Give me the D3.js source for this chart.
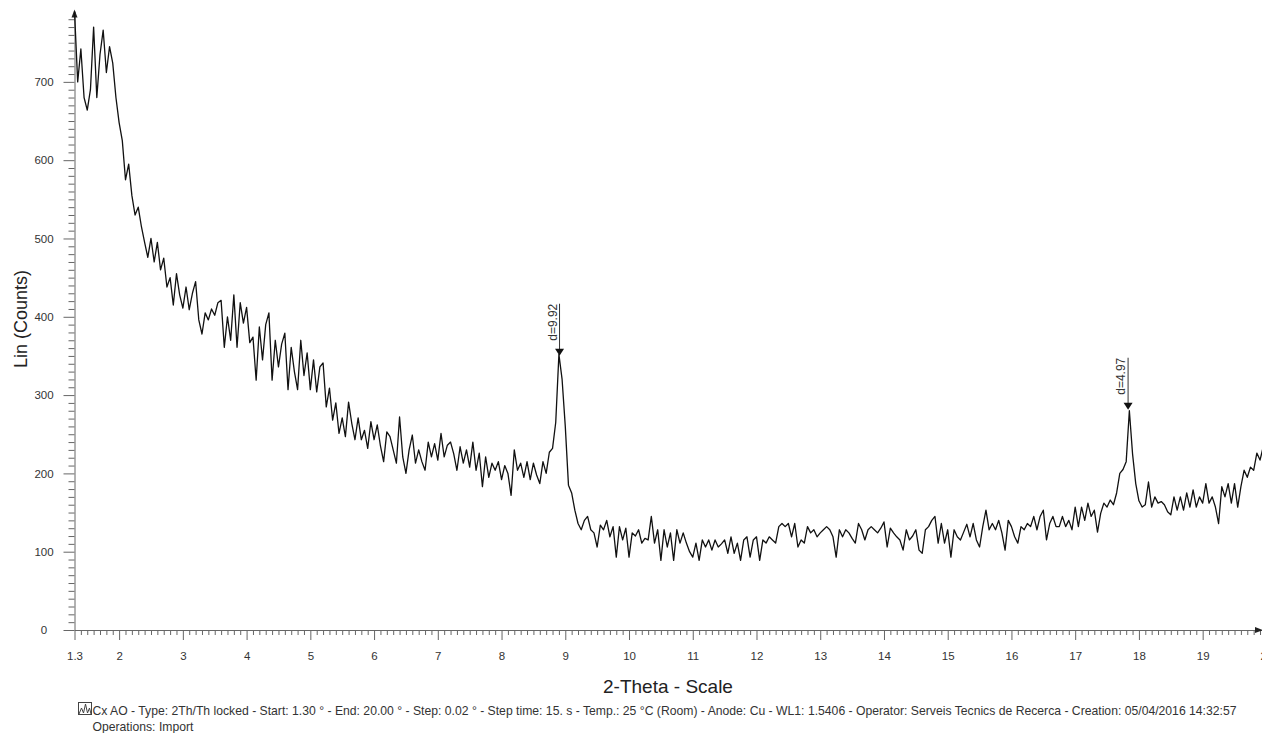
<!DOCTYPE html>
<html lang="en">
<head>
    <meta charset="UTF-8">
    <script src="https://cdn.jsdelivr.net/npm/d3@7"></script>
    <title>Cx AO - XRD</title>
    <style>
        body { margin: 0; background: #fff; }
        svg text { font-family: "Liberation Sans", Arial, sans-serif; }
    </style>
</head>
<body>
    <div id="chart"></div>

    <script>
        /*------------------------------------------------------*/
        /*------------------------ Data ------------------------*/
        /*------------------------------------------------------*/
        // scan starts at 1.30 deg, one value every 0.05 deg
        const startAngle = 1.3;
        const stepAngle = 0.05;

        // 1.30 - 2.95
        const counts_1 = [790, 700, 742, 680, 664, 690, 770, 680, 735, 766, 712, 745, 724, 680,
            648, 625, 575, 595, 555, 530, 540, 515, 495, 476, 500, 470, 495, 460, 475, 438, 450, 415, 455, 428];
        // 3.00 - 5.95
        const counts_2 = [411, 438, 409, 430, 445, 396, 378, 405, 396, 410, 402, 418, 421, 361, 400, 370, 428, 361, 418, 392,
            412, 367, 374, 319, 387, 345, 390, 405, 319, 370, 336, 365, 379, 307, 361, 330, 307, 370, 325, 354,
            307, 345, 304, 336, 341, 285, 309, 268, 290, 251, 271, 247, 291, 264, 243, 271, 243, 255, 232, 266];
        // 6.00 - 8.95
        const counts_3 = [243, 262, 235, 215, 253, 247, 230, 213, 272, 221, 200, 230, 249, 213, 230, 215, 204, 240, 221, 238,
            217, 251, 221, 236, 240, 225, 204, 234, 213, 230, 208, 240, 204, 226, 183, 221, 195, 213, 204, 215,
            192, 210, 200, 172, 230, 204, 213, 195, 215, 192, 213, 198, 187, 215, 200, 227, 232, 265, 352, 320];
        // 9.00 - 12.95
        const counts_4 = [260, 185, 175, 153, 136, 128, 140, 145, 128, 124, 106, 134, 128, 140, 119, 132, 93, 132, 115, 130,
            93, 124, 120, 128, 111, 117, 115, 145, 111, 128, 89, 128, 106, 124, 89, 128, 111, 124, 111, 100,
            93, 111, 89, 115, 106, 115, 102, 115, 106, 110, 115, 98, 119, 98, 111, 89, 115, 119, 93, 115,
            119, 89, 115, 111, 119, 115, 111, 132, 136, 132, 136, 119, 136, 106, 115, 111, 132, 124, 128, 119];
        // 13.00 - 16.95
        const counts_5 = [124, 128, 132, 128, 119, 93, 128, 119, 128, 124, 117, 111, 136, 128, 115, 128, 132, 128, 124, 130,
            138, 106, 130, 124, 119, 115, 102, 128, 115, 120, 128, 102, 98, 128, 132, 140, 145, 111, 136, 111,
            128, 93, 128, 119, 115, 125, 135, 119, 136, 115, 106, 132, 153, 128, 136, 128, 140, 124, 102, 140,
            132, 119, 111, 132, 128, 136, 132, 145, 128, 145, 153, 115, 136, 145, 132, 132, 145, 132, 140, 128];
        // 17.00 - 20.00
        const counts_6 = [157, 132, 157, 140, 162, 145, 153, 125, 149, 162, 157, 166, 160, 175, 200, 205, 215, 280, 225, 187,
            165, 157, 160, 189, 157, 170, 162, 164, 160, 151, 147, 170, 153, 170, 153, 175, 157, 179, 157, 170,
            162, 187, 162, 170, 157, 136, 183, 170, 187, 162, 187, 157, 183, 204, 195, 208, 204, 226, 217, 234, 247];

        // peak markers
        const peakAngles = [8.91, 17.83];
        const peakCounts = [349, 280];
        const peakLabels = ["d=9.92", "d=4.97"];

        // axis ticks
        const xTickValues = [1.3, 2, 3, 4, 5, 6, 7, 8, 9, 10, 11, 12, 13, 14, 15, 16, 17, 18, 19, 20];
        const yTickValues = [0, 100, 200, 300, 400, 500, 600, 700];

        const scanInfo = "Cx AO - Type: 2Th/Th locked - Start: 1.30 \u00b0 - End: 20.00 \u00b0 - Step: 0.02 \u00b0 - Step time: 15. s - Temp.: 25 \u00b0C (Room) - Anode: Cu - WL1: 1.5406 - Operator: Serveis Tecnics de Recerca - Creation: 05/04/2016 14:32:57";
        const operationsInfo = "Operations: Import";

        const scan = [].concat(counts_1, counts_2, counts_3, counts_4, counts_5, counts_6)
            .map((c, i) => ({ angle: startAngle + i * stepAngle, count: c }));

        /*------------------------------------------------------*/
        /*----------------------- Setup ------------------------*/
        /*------------------------------------------------------*/
        const width = 1262;
        const height = 733;

        const svg = d3.select("#chart").append("svg")
            .attr("width", width)
            .attr("height", height);

        const xScale = d3.scaleLinear().domain([1.3, 20]).range([74.5, 1266.4]);
        const yScale = d3.scaleLinear().domain([0, 790]).range([630, 11.4]);

        const axisColor = "#666";
        const labelColor = "#333";

        /*------------------------------------------------------*/
        /*----------------------- Axes -------------------------*/
        /*------------------------------------------------------*/
        // minor x ticks, every 0.1
        const xMinor = d3.range(14, 200).filter(v => v % 10 !== 0).map(v => v / 10);
        svg.append("g")
            .attr("transform", `translate(0,${yScale(0)})`)
            .call(d3.axisBottom(xScale).tickValues(xMinor).tickSize(5).tickSizeOuter(0).tickFormat(""))
            .call(g => g.select(".domain").remove())
            .call(g => g.selectAll("line").attr("stroke", axisColor));

        svg.append("g")
            .attr("transform", `translate(0,${yScale(0)})`)
            .call(d3.axisBottom(xScale).tickValues(xTickValues).tickSize(10).tickSizeOuter(0).tickPadding(12)
                .tickFormat(d => d))
            .call(g => g.select(".domain").attr("stroke", axisColor))
            .call(g => g.selectAll("line").attr("stroke", axisColor))
            .call(g => g.selectAll("text").attr("fill", labelColor).style("font-size", "11.5px"));

        // minor y ticks, every 10
        const yMinor = d3.range(10, 790, 10).filter(v => v % 100 !== 0);
        svg.append("g")
            .attr("transform", `translate(${xScale(1.3)},0)`)
            .call(d3.axisLeft(yScale).tickValues(yMinor).tickSize(6).tickSizeOuter(0).tickFormat(""))
            .call(g => g.select(".domain").remove())
            .call(g => g.selectAll("line").attr("stroke", axisColor));

        svg.append("g")
            .attr("transform", `translate(${xScale(1.3)},0)`)
            .call(d3.axisLeft(yScale).tickValues(yTickValues).tickSize(11).tickSizeOuter(0))
            .call(g => g.select(".domain").attr("stroke", axisColor))
            .call(g => g.selectAll("line").attr("stroke", axisColor))
            .call(g => g.selectAll("text")
                .attr("x", 44 - xScale(1.3))
                .attr("text-anchor", "middle")
                .attr("fill", labelColor)
                .style("font-size", "11.5px"));

        // little arrow heads at the axis ends
        const yTop = yScale(790);
        svg.append("path")
            .attr("d", `M${xScale(1.3) - 3},${yTop + 6}L${xScale(1.3)},${yTop - 2}L${xScale(1.3) + 3},${yTop + 6}Z`)
            .attr("fill", "#222");
        svg.append("path")
            .attr("d", `M1255,${yScale(0) - 3}L1263,${yScale(0)}L1255,${yScale(0) + 3}Z`)
            .attr("fill", "#222");

        // axis titles
        svg.append("text")
            .attr("x", 668)
            .attr("y", 693)
            .attr("text-anchor", "middle")
            .attr("fill", "#222")
            .style("font-size", "19px")
            .text("2-Theta - Scale");

        svg.append("text")
            .attr("transform", "translate(27,319) rotate(-90)")
            .attr("text-anchor", "middle")
            .attr("fill", "#222")
            .style("font-size", "18px")
            .text("Lin (Counts)");

        /*------------------------------------------------------*/
        /*---------------------- Pattern -----------------------*/
        /*------------------------------------------------------*/
        const line = d3.line()
            .x(d => xScale(d.angle))
            .y(d => yScale(d.count));

        svg.append("path")
            .datum(scan)
            .attr("d", line)
            .attr("fill", "none")
            .attr("stroke", "#111")
            .attr("stroke-width", 1.3)
            .attr("stroke-linejoin", "round");

        // d-spacing markers
        const peaks = peakAngles.map((a, i) => ({ angle: a, count: peakCounts[i], label: peakLabels[i] }));
        const marker = svg.selectAll(".peak")
            .data(peaks)
            .enter()
            .append("g")
            .attr("class", "peak")
            .attr("transform", d => `translate(${xScale(d.angle)},${yScale(d.count) - 1})`);

        marker.append("line")
            .attr("y1", -52)
            .attr("y2", -6)
            .attr("stroke", "#333")
            .attr("stroke-width", 1);

        marker.append("path")
            .attr("d", "M-4.5,-7L4.5,-7L0,0Z")
            .attr("fill", "#111");

        marker.append("text")
            .attr("transform", "translate(-3,-52) rotate(-90)")
            .attr("text-anchor", "end")
            .attr("fill", "#333")
            .style("font-size", "12px")
            .text(d => d.label);

        /*------------------------------------------------------*/
        /*---------------------- Legend ------------------------*/
        /*------------------------------------------------------*/
        svg.append("rect")
            .attr("x", 78.5)
            .attr("y", 702.5)
            .attr("width", 13)
            .attr("height", 12)
            .attr("fill", "none")
            .attr("stroke", "#444");
        svg.append("path")
            .attr("d", "M79,714L81.5,708L83.5,713L85.5,704L87.5,713L89.5,708L91,714")
            .attr("fill", "none")
            .attr("stroke", "#444");

        svg.append("text")
            .attr("x", 92.5)
            .attr("y", 715)
            .attr("fill", "#333")
            .style("font-size", "12.2px")
            .text(scanInfo);

        svg.append("text")
            .attr("x", 92.5)
            .attr("y", 731)
            .attr("fill", "#333")
            .style("font-size", "12.2px")
            .text(operationsInfo);
    </script>
</body>
</html>
